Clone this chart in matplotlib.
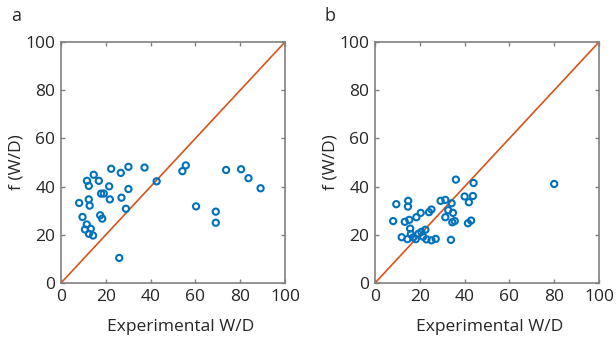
import matplotlib
matplotlib.use('Agg')
import matplotlib.pyplot as plt
import numpy as np

plt.rcParams['font.family'] = ['Open Sans', 'DejaVu Sans']

# panel a: experimental vs predicted W/D
a_x = [8.1, 9.6, 10.7, 11.5, 11.6, 12.4, 12.4, 12.8, 12.5, 13.3, 14.3, 14.6, 16.9,
       17.5, 18.4, 17.9, 19.1, 21.5, 21.8, 22.4, 26.0, 26.7, 27.0, 29.0, 30.1, 30.1,
       37.3, 42.7, 54.2, 55.7, 60.3, 69.1, 69.1, 73.7, 80.4, 83.7, 89.1]
a_y = [33.2, 27.4, 22.2, 24.3, 42.4, 40.3, 34.7, 32.1, 20.4, 22.5, 19.7, 44.9, 42.4,
       28.1, 26.7, 37.1, 37.1, 40.1, 34.7, 47.4, 10.4, 45.7, 35.4, 30.8, 48.2, 39.0,
       47.9, 42.2, 46.4, 48.8, 31.8, 29.6, 25.0, 46.9, 47.2, 43.5, 39.3]

# panel b
b_x = [8.1, 9.5, 11.9, 13.3, 14.8, 14.7, 15.3, 14.5, 15.7, 16.0, 17.0, 18.2, 18.5,
       19.4, 20.4, 20.7, 21.5, 22.5, 23.0, 24.1, 25.2, 25.2, 27.1, 29.3, 31.4, 31.4,
       32.7, 34.2, 34.8, 34.5, 35.6, 33.9, 36.1, 40.0, 41.9, 41.5, 42.9, 44.0, 43.7, 80.0]
b_y = [25.7, 32.7, 19.0, 25.4, 34.1, 31.7, 26.2, 18.2, 22.6, 20.3, 18.9, 18.2, 27.3,
       20.4, 29.1, 21.2, 19.2, 22.1, 18.1, 29.4, 30.5, 17.7, 18.3, 34.1, 34.5, 27.3,
       30.2, 33.1, 29.1, 25.2, 25.7, 17.9, 42.9, 35.9, 33.5, 24.8, 25.9, 41.5, 36.1, 41.1]

ticks = [0, 20, 40, 60, 80, 100]

fig = plt.figure(figsize=(6.16, 3.49), dpi=100)
W, H = 616, 349
boxes = [(61, 42, 285, 283), (375, 42, 599, 283)]
panels = [(a_x, a_y, 'a', 0.536), (b_x, b_y, 'b', 0.513)]

for (l, t, r, b), (xs, ys, tag, lx) in zip(boxes, panels):
    ax = fig.add_axes([l / W, 1 - b / H, (r - l) / W, (b - t) / H])
    ax.plot([0, 100], [0, 100], color='#D95319', lw=1.2, zorder=1)
    ax.scatter(xs, ys, s=20, facecolors='none', edgecolors='#0072BD', linewidths=1.5, zorder=2)
    ax.set_xlim(0, 100)
    ax.set_ylim(0, 100)
    ax.set_xticks(ticks)
    ax.set_yticks(ticks)
    ax.tick_params(direction='in', top=True, right=True, length=3, width=1,
                   colors='#808080', labelcolor='#262626', labelsize=12.5, pad=4)
    for s in ax.spines.values():
        s.set_color('#808080')
        s.set_linewidth(1.2)
    ax.set_xlabel('Experimental W/D', fontsize=12.5, color='#262626')
    ax.set_ylabel('f (W/D)', fontsize=12.5, color='#262626')
    ax.xaxis.set_label_coords(lx, -0.15)
    ax.yaxis.set_label_coords(-0.165, 0.5)
    fig.text((l - 50) / W, 1 - 16 / H, tag, fontsize=13, color='#262626', va='center')

fig.savefig('out.png', dpi=100)
